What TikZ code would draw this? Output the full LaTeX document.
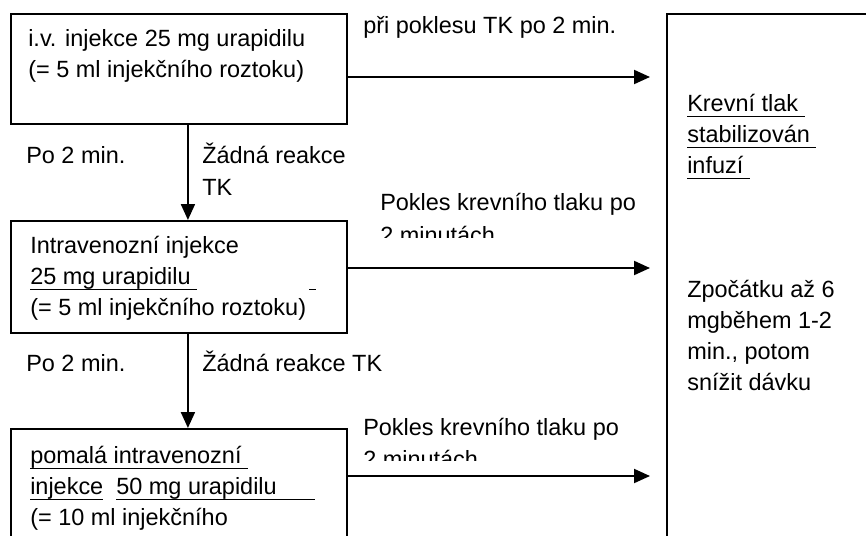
\documentclass[tikz,border=0pt]{standalone}
\usepackage{fontspec}
\setmainfont{Liberation Sans}
\usepackage{tikz}
\usetikzlibrary{arrows.meta}

% underline that keeps trailing spaces
\newcommand{\undl}[1]{\setbox0\hbox{#1}\rlap{\rule[-4.6pt]{\wd0}{1.1pt}}\box0}

\begin{document}
\begin{tikzpicture}[x=0.75pt,y=-0.75pt,every path/.style={>={Triangle[length=12pt,width=10.5pt]}},
		txt/.style={anchor=base west,inner sep=0pt,font=\fontsize{17.6pt}{21pt}\selectfont},
		box/.style={draw,line width=1.4pt,anchor=north west,minimum width=252pt,inner sep=0pt}]
		\useasboundingbox (0,0) rectangle (866,535);
		\clip (0,0) rectangle (866,535);
	
		% draw boxes
		\node (inj1) at (10,13) [box,minimum height=82.5pt] {};
		\node (inj2) at (10,220) [box,minimum height=84pt] {};
		\node (inj3) at (10,428) [box,minimum height=120pt] {};
		\node (stab) at (666,13) [box,minimum width=200pt,minimum height=420pt] {};
	
		% text of first box
		\node (inj1a) at (28,47) [txt] {i.v. injekce 25 mg urapidilu};
		\node (inj1b) at (28,78) [txt] {(= 5 ml injekčního roztoku)};
	
		% text of second box
		\node (inj2a) at (30,253) [txt] {Intravenozní injekce};
		\node (inj2b) at (30,284) [txt] {\undl{25 mg urapidilu\ }\hspace{84pt}\undl{\ }};
		\node (inj2c) at (30,315) [txt] {(= 5 ml injekčního roztoku)};
	
		% text of third box
		\node (inj3a) at (30,463) [txt] {\undl{pomalá intravenozní\ }};
		\node (inj3b) at (30,494) [txt] {\undl{injekce}\ \ \undl{50 mg urapidilu\hspace{28.5pt}}};
		\node (inj3c) at (30,525) [txt] {(= 10 ml injekčního};
	
		% text of right box
		\node (stab1) at (687,111) [txt] {\undl{Krevní tlak\ }};
		\node (stab2) at (687,142) [txt] {\undl{stabilizován\ }};
		\node (stab3) at (687,173) [txt] {\undl{infuzí\ }};
		\node (dose1) at (687,297) [txt] {Zpočátku až 6};
		\node (dose2) at (687,328) [txt] {mgběhem 1-2};
		\node (dose3) at (687,359) [txt] {min., potom};
		\node (dose4) at (687,390) [txt] {snížit dávku};
	
		% labels of the vertical arrows
		\node (wait1) at (26,163) [txt] {Po 2 min.};
		\node (none1a) at (202,163) [txt] {Žádná reakce};
		\node (none1b) at (202,195) [txt] {TK};
		\node (wait2) at (26,371) [txt] {Po 2 min.};
		\node (none2) at (202,371) [txt] {Žádná reakce TK};
	
		% labels of the horizontal arrows
		\node (drop0) at (363,34) [txt] {při poklesu TK po 2 min.};
		\node (drop1) at (380,210) [txt] {Pokles krevního tlaku po};
		\node (drop2) at (363,435) [txt] {Pokles krevního tlaku po};
		\begin{scope}
			\clip (360,215) rectangle (660,237);
			\node (drop1b) at (380,243) [txt] {2 minutách};
		\end{scope}
		\begin{scope}
			\clip (345,440) rectangle (660,460);
			\node (drop2b) at (363,467) [txt] {2 minutách};
		\end{scope}
	
		% arrow tips before the right box
		\coordinate (tip1) at (650,77);
		\coordinate (tip2) at (650,268);
		\coordinate (tip3) at (650,476);
	
		% draw arrows down
		\foreach \i/\j in {1/2,2/3}
		{
			\draw[->,line width=1.5pt] ([xshift=6.75pt]inj\i.south) -- ([xshift=6.75pt]inj\j.north);
		}
	
		% draw arrows to the right box
		\foreach \i in {1,2,3}
		{
			\draw[->,line width=1.5pt] (inj\i.east |- tip\i) -- (tip\i);
		}
\end{tikzpicture}
\end{document}
